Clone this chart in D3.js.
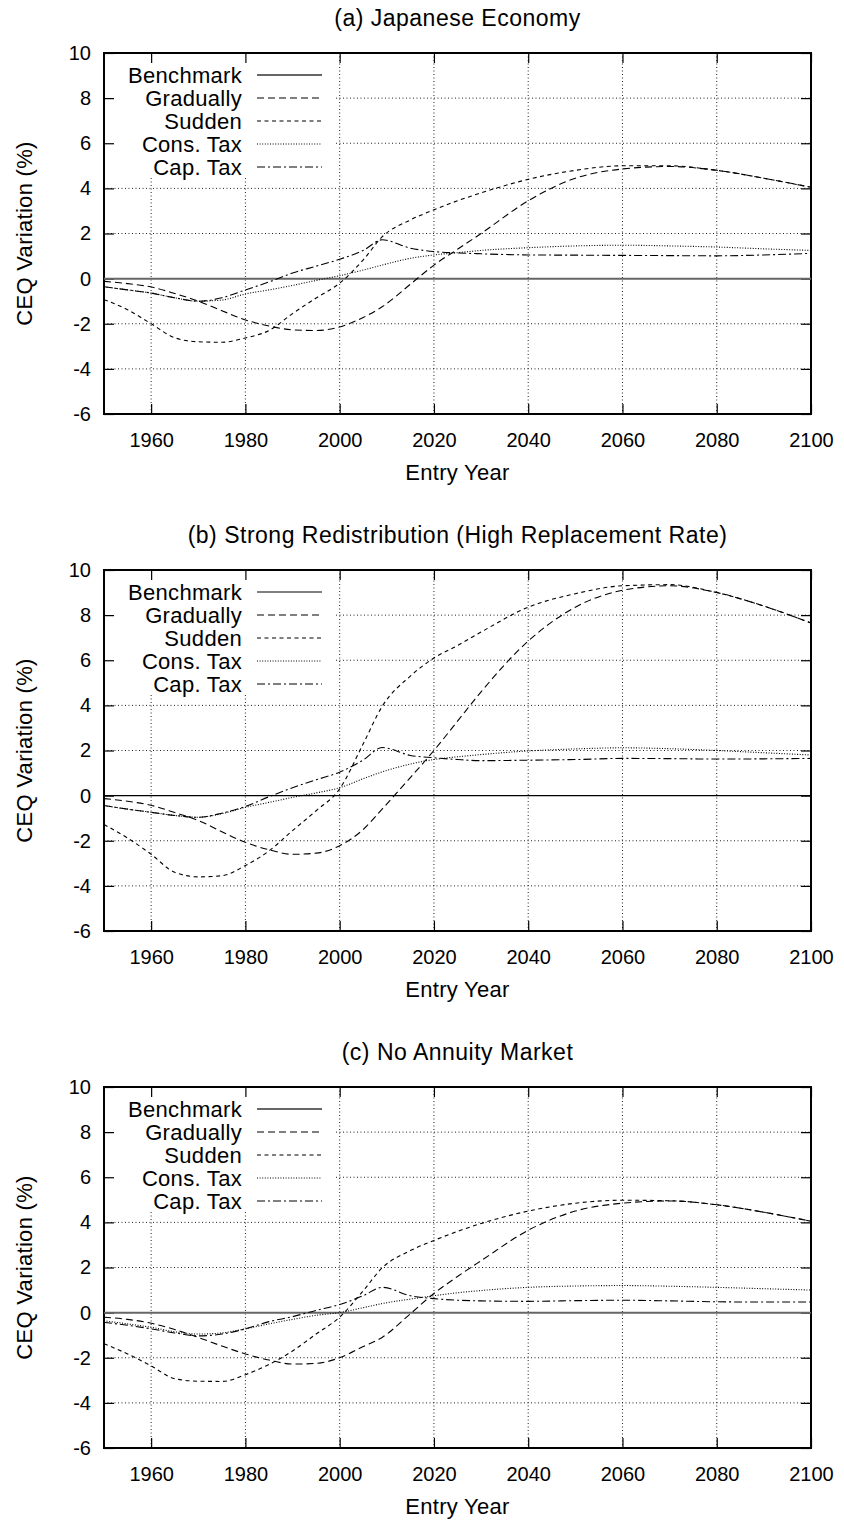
<!DOCTYPE html>
<html>
<head>
<meta charset="utf-8">
<script src="https://cdn.jsdelivr.net/npm/d3@7/dist/d3.min.js"></script>
<style>
  body { margin: 0; background: #fff; }
  svg text { font-family: "Liberation Sans", Arial, Helvetica, sans-serif; fill: #000; }
  .word { font-size: 22px; letter-spacing: 0.3px; }
  .title { font-size: 23px; letter-spacing: 0.5px; }
</style>
</head>
<body>
<div id="chart"></div>
<script>
// entry years used by all simulated series
const years = [1950, 1955, 1960, 1965, 1970, 1975, 1980, 1985, 1990, 1995, 2000, 2005,
  2009, 2015, 2020, 2025, 2030, 2040, 2050, 2060, 2070, 2080, 2090, 2100];

const benchYears = [1950, 2100];
const benchmark = [0, 0];

const seriesNames = ["Benchmark", "Gradually", "Sudden", "Cons. Tax", "Cap. Tax"];
const panelTitles = [
  "(a) Japanese Economy",
  "(b) Strong Redistribution (High Replacement Rate)",
  "(c) No Annuity Market",
];
const xTicks = [1960, 1980, 2000, 2020, 2040, 2060, 2080, 2100];
const yTicks = [-6, -4, -2, 0, 2, 4, 6, 8, 10];

// (a) Japanese Economy
const gradA = [-0.12, -0.22, -0.37, -0.66, -1.0, -1.42, -1.83, -2.1, -2.27, -2.3, -2.14, -1.72,
  -1.25, -0.25, 0.6, 1.3, 2.0, 3.45, 4.45, 4.86, 4.97, 4.8, 4.45, 4.05];
const suddenA = [-0.93, -1.38, -2.0, -2.62, -2.8, -2.82, -2.63, -2.3, -1.55, -0.86, -0.2, 0.83,
  1.85, 2.6, 3.05, 3.45, 3.8, 4.4, 4.8, 5.0, 5.0, 4.8, 4.45, 4.05];
const consA = [-0.36, -0.5, -0.64, -0.85, -1.0, -0.95, -0.68, -0.5, -0.3, -0.08, 0.13, 0.38,
  0.6, 0.9, 1.05, 1.15, 1.25, 1.37, 1.45, 1.48, 1.45, 1.4, 1.32, 1.25];
const capA = [-0.36, -0.5, -0.64, -0.85, -1.0, -0.85, -0.5, -0.15, 0.25, 0.55, 0.86, 1.25,
  1.72, 1.35, 1.2, 1.14, 1.1, 1.05, 1.04, 1.03, 1.02, 1.01, 1.05, 1.12];

// (b) Strong Redistribution
const gradB = [-0.13, -0.25, -0.43, -0.75, -1.1, -1.6, -2.07, -2.4, -2.6, -2.55, -2.22, -1.5,
  -0.6, 0.8, 2.0, 3.3, 4.6, 6.85, 8.35, 9.1, 9.3, 9.0, 8.4, 7.65];
const suddenB = [-1.28, -1.88, -2.6, -3.4, -3.6, -3.55, -3.1, -2.45, -1.55, -0.67, 0.3, 2.3,
  3.95, 5.3, 6.1, 6.65, 7.25, 8.35, 8.95, 9.3, 9.35, 9.0, 8.4, 7.65];
const consB = [-0.44, -0.6, -0.74, -0.88, -0.96, -0.8, -0.52, -0.3, -0.08, 0.12, 0.35, 0.75,
  1.05, 1.4, 1.6, 1.72, 1.82, 1.98, 2.07, 2.12, 2.08, 2.0, 1.9, 1.8];
const capB = [-0.44, -0.6, -0.74, -0.88, -0.96, -0.78, -0.48, -0.05, 0.35, 0.7, 1.04, 1.58,
  2.13, 1.78, 1.68, 1.6, 1.55, 1.57, 1.6, 1.65, 1.64, 1.62, 1.63, 1.65];

// (c) No Annuity Market
const gradC = [-0.2, -0.3, -0.47, -0.75, -1.1, -1.48, -1.83, -2.1, -2.28, -2.25, -2.0, -1.5,
  -1.1, -0.05, 0.85, 1.6, 2.3, 3.65, 4.5, 4.85, 4.95, 4.78, 4.45, 4.05];
const suddenC = [-1.38, -1.83, -2.36, -2.93, -3.04, -3.05, -2.75, -2.3, -1.7, -0.95, -0.2, 0.97,
  1.98, 2.75, 3.2, 3.6, 3.95, 4.5, 4.85, 4.98, 4.96, 4.78, 4.45, 4.05];
const consC = [-0.36, -0.5, -0.65, -0.85, -0.95, -0.9, -0.72, -0.5, -0.3, -0.12, 0.0, 0.22,
  0.4, 0.6, 0.75, 0.88, 0.98, 1.12, 1.18, 1.2, 1.17, 1.12, 1.06, 1.0];
const capC = [-0.43, -0.56, -0.72, -0.9, -1.03, -0.95, -0.72, -0.4, -0.18, 0.1, 0.36, 0.75,
  1.12, 0.75, 0.62, 0.55, 0.52, 0.5, 0.53, 0.55, 0.52, 0.48, 0.47, 0.47];

const panelValues = [
  [gradA, suddenA, consA, capA],
  [gradB, suddenB, consB, capB],
  [gradC, suddenC, consC, capC],
];

// line styles, in seriesNames order after Benchmark
const dashes = ["7,4", "4,3.5", "1,1.6", "8,3,2,3"];
const benchColor = ["#666", "#000", "#666"];
const benchWidth = [2, 1.2, 2];

const panelHeight = 517;
const plot = { left: 104, right: 811, top: 53, bottom: 414 };
const legendBox = { right: 336, bottom: 178 };

// gnuplot style labels: plain hyphen, no thousands separator
const tickFmt = (d) => (d < 0 ? "-" + Math.abs(d) : String(d));

const svg = d3
  .select("#chart")
  .append("svg")
  .attr("width", 844)
  .attr("height", 1520);

panelTitles.forEach((title, i) => drawPanel(svg, i));

function drawPanel(svg, i) {
  const g = svg.append("g").attr("transform", `translate(0,${i * panelHeight})`);

  const x = d3.scaleLinear().domain([1950, 2100]).range([plot.left, plot.right]);
  const y = d3.scaleLinear().domain([-6, 10]).range([plot.bottom, plot.top]);

  addGrid(g, x, y);
  addAxes(g, x, y);

  const line = d3
    .line()
    .x((d) => x(d[0]))
    .y((d) => y(d[1]))
    .curve(d3.curveMonotoneX);

  // benchmark
  g.append("path")
    .attr("d", line(benchYears.map((yr, k) => [yr, benchmark[k]])))
    .attr("fill", "none")
    .attr("stroke", benchColor[i])
    .attr("stroke-width", benchWidth[i]);

  panelValues[i].forEach((vals, s) => {
    g.append("path")
      .attr("d", line(years.map((yr, k) => [yr, vals[k]])))
      .attr("fill", "none")
      .attr("stroke", "#000")
      .attr("stroke-width", 1.1)
      .attr("stroke-dasharray", dashes[s]);
  });

  addLegend(g, i);

  g.append("text")
    .attr("class", "title")
    .attr("x", (plot.left + plot.right) / 2)
    .attr("y", 18)
    .attr("dy", "0.35em")
    .attr("text-anchor", "middle")
    .text(panelTitles[i]);

  g.append("text")
    .attr("class", "word")
    .attr("x", (plot.left + plot.right) / 2)
    .attr("y", 472)
    .attr("dy", "0.35em")
    .attr("text-anchor", "middle")
    .text("Entry Year");

  g.append("text")
    .attr("class", "word")
    .attr("transform", `translate(24,${(plot.top + plot.bottom) / 2}) rotate(-90)`)
    .attr("dy", "0.35em")
    .attr("text-anchor", "middle")
    .text("CEQ Variation (%)");
}

function addGrid(g, x, y) {
  const grid = g
    .append("g")
    .attr("stroke", "#222")
    .attr("stroke-width", 1)
    .attr("stroke-dasharray", "1,2.5");

  grid
    .selectAll(".hgrid")
    .data(yTicks.filter((v) => v > -6 && v < 10 && v !== 0))
    .enter()
    .append("line")
    .attr("x1", (v) => (y(v) < legendBox.bottom ? legendBox.right : plot.left))
    .attr("x2", plot.right)
    .attr("y1", (v) => y(v))
    .attr("y2", (v) => y(v));

  grid
    .selectAll(".vgrid")
    .data(xTicks.filter((t) => t < 2100))
    .enter()
    .append("line")
    .attr("x1", (t) => x(t))
    .attr("x2", (t) => x(t))
    .attr("y1", (t) => (x(t) < legendBox.right ? legendBox.bottom : plot.top))
    .attr("y2", plot.bottom);
}

function addAxes(g, x, y) {
  const left = g
    .append("g")
    .attr("transform", `translate(${plot.left},0)`)
    .call(d3.axisLeft(y).tickValues(yTicks).tickSize(-10).tickPadding(13).tickFormat(tickFmt));
  const bottom = g
    .append("g")
    .attr("transform", `translate(0,${plot.bottom})`)
    .call(d3.axisBottom(x).tickValues(xTicks).tickSize(-10).tickPadding(19).tickFormat(tickFmt));
  const right = g
    .append("g")
    .attr("transform", `translate(${plot.right},0)`)
    .call(d3.axisRight(y).tickValues(yTicks).tickSize(-10).tickFormat(""));
  const top = g
    .append("g")
    .attr("transform", `translate(0,${plot.top})`)
    .call(d3.axisTop(x).tickValues(xTicks).tickSize(-10).tickFormat(""));

  [left, bottom, right, top].forEach((a) => {
    a.select(".domain").remove();
    a.selectAll("line").attr("stroke", "#000").attr("stroke-width", 1.2);
    a.selectAll("text").style("font-size", "20px").attr("fill", "#000");
  });

  g.append("rect")
    .attr("x", plot.left)
    .attr("y", plot.top)
    .attr("width", plot.right - plot.left)
    .attr("height", plot.bottom - plot.top)
    .attr("fill", "none")
    .attr("stroke", "#000")
    .attr("stroke-width", 2);
}

function addLegend(g, i) {
  const rows = g
    .append("g")
    .selectAll("g")
    .data(seriesNames)
    .enter()
    .append("g")
    .attr("transform", (d, k) => `translate(0,${75 + k * 23})`);

  rows
    .append("text")
    .attr("class", "word")
    .attr("x", 242)
    .attr("dy", "0.35em")
    .attr("text-anchor", "end")
    .text((d) => d);

  rows
    .append("line")
    .attr("x1", 257)
    .attr("x2", 322)
    .attr("stroke", (d, k) => (k === 0 ? benchColor[i] : "#000"))
    .attr("stroke-width", (d, k) => (k === 0 ? benchWidth[i] : 1.1))
    .attr("stroke-dasharray", (d, k) => (k === 0 ? null : dashes[k - 1]));
}
</script>
</body>
</html>
